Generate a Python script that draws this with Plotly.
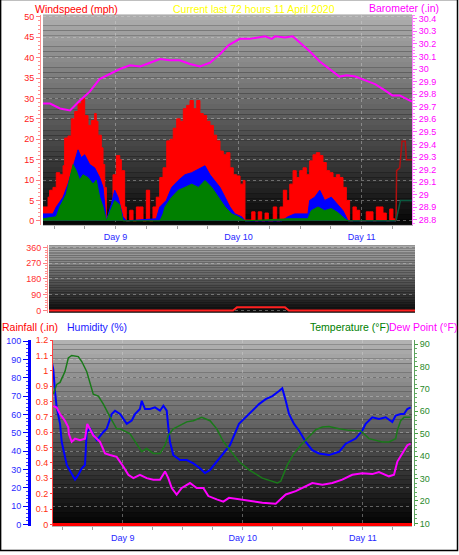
import plotly.graph_objects as go

W, H = 459, 555

# ---------------- data (x = day of month, decimal) ----------------
gust_t = [8.410, 8.451, 8.464, 8.491, 8.518, 8.546, 8.573, 8.586, 8.613, 8.640,
          8.668, 8.695, 8.721, 8.735, 8.749, 8.776, 8.803, 8.830, 8.843, 8.857,
          8.884, 8.898, 8.912, 8.925, 8.952, 8.979, 9.006, 9.034, 9.047, 9.074,
          9.087, 9.115, 9.142, 9.169, 9.196, 9.223, 9.250, 9.277, 9.304, 9.331,
          9.359, 9.386, 9.416, 9.443, 9.469, 9.497, 9.524, 9.551, 9.578, 9.605,
          9.632, 9.660, 9.686, 9.713, 9.741, 9.768, 9.795, 9.822, 9.849, 9.876,
          9.903, 9.930, 9.957, 9.985, 10.012, 10.038, 10.052, 10.107, 10.134, 10.160,
          10.188, 10.215, 10.242, 10.282, 10.310, 10.337, 10.364, 10.391, 10.402, 10.416,
          10.443, 10.469, 10.497, 10.524, 10.551, 10.578, 10.605, 10.632, 10.660, 10.686,
          10.713, 10.741, 10.768, 10.795, 10.822, 10.849, 10.876, 10.903, 10.930, 10.957,
          10.985, 11.038, 11.066, 11.093, 11.120, 11.148, 11.174, 11.201, 11.229, 11.255,
          11.269, 11.280]
gust_v = [3.4, 5.8, 7.5, 8.2, 11.8, 11.3, 13.5, 20.3, 20.8, 25,
          26.8, 28.7, 29.5, 30, 25.8, 23.4, 24.6, 26.3, 24.4, 21,
          17.9, 13.8, 8.2, 1, 0.5, 11.3, 16, 15, 12.3, 3.4,
          0, 2.6, 0, 3.4, 3.4, 0, 7.5, 0, 3.4, 5.8,
          10.6, 13, 19.6, 20, 22.7, 25, 24.4, 27.5, 28.3, 29.5,
          27.5, 29.5, 26.3, 25.8, 24.4, 23.4, 21, 19.6, 17.1, 16.2,
          16.7, 13, 11.3, 11, 9, 9.9, 0.2, 2.2, 0, 2.2,
          0, 1.9, 0, 3.4, 0, 3.4, 7.5, 5, 5, 9,
          12.3, 10.6, 12.3, 13, 11.3, 14.7, 16.2, 16.7, 16, 14.3,
          12.3, 11.8, 10.6, 11.3, 10.6, 8.2, 5, 0, 3.4, 2.6,
          0, 2.2, 2.2, 0, 3.4, 3.4, 1.9, 0, 2.9, 0.5,
          0, 0]

avg_t = [8.410, 8.491, 8.518, 8.573, 8.613, 8.654, 8.695, 8.721, 8.749, 8.790,
         8.830, 8.871, 8.898, 8.925, 8.965, 8.993, 9.020, 9.060, 9.087, 9.331,
         9.359, 9.412, 9.456, 9.510, 9.564, 9.619, 9.673, 9.727, 9.768, 9.808,
         9.849, 9.890, 9.930, 9.971, 10.025, 10.052, 10.351, 10.377, 10.402, 10.456,
         10.564, 10.578, 10.619, 10.660, 10.700, 10.754, 10.808, 10.849, 10.890, 11.280]
avg_v = [1.7, 1.7, 3.4, 5.8, 9, 13, 17.4, 15.5, 16.2, 13.8,
         13, 10.6, 8.2, 0, 4, 7.5, 5.8, 1, 0, 0.5,
         3.4, 5, 8.2, 9.9, 11.3, 11.8, 12.6, 13.5, 11.3, 9.9,
         8.2, 5.8, 3.4, 1.7, 1, 0, 0, 0.5, 1, 1.7,
         1.7, 5, 5.8, 7.5, 5, 5.8, 4, 2.5, 0, 0]

wind_t = [8.410, 8.518, 8.546, 8.599, 8.654, 8.681, 8.708, 8.735, 8.776, 8.817,
          8.843, 8.871, 8.898, 8.925, 8.993, 9.034, 9.060, 9.361, 9.386, 9.402,
          9.456, 9.510, 9.564, 9.619, 9.673, 9.727, 9.782, 9.835, 9.890, 9.944,
          9.998, 10.052, 10.402, 10.564, 10.591, 10.646, 10.700, 10.754, 10.808, 10.863,
          10.890, 11.280]
wind_v = [0.5, 1, 3.4, 6.5, 13.8, 12.3, 10, 11.3, 10.6, 9,
          10, 5.8, 3.4, 0, 5, 3.9, 0, 0, 1.7, 3.4,
          5.8, 7.5, 8.2, 9, 8.2, 9.9, 8.2, 5.8, 3.4, 1.7,
          1, 0, 0.5, 0.5, 2.5, 3.4, 2.5, 3, 2, 0.5,
          0, 0]

cur_gust_t = [11.280, 11.285, 11.310, 11.329, 11.355, 11.364, 11.410]
cur_gust_v = [0, 12.3, 13, 19.5, 19.5, 15, 15]
cur_wind_t = [11.280, 11.316, 11.410]
cur_wind_v = [0, 5, 5]

baro_t = [8.410, 8.467, 8.548, 8.630, 8.710, 8.790, 8.870, 8.955, 9.035, 9.117,
          9.200, 9.280, 9.360, 9.440, 9.520, 9.605, 9.686, 9.768, 9.850, 9.920,
          10.010, 10.090, 10.170, 10.215, 10.270, 10.296, 10.377, 10.440, 10.500, 10.580,
          10.660, 10.740, 10.820, 10.880, 10.950, 11.030, 11.110, 11.190, 11.250, 11.310,
          11.390, 11.410]
baro_v = [29.725, 29.725, 29.686, 29.67, 29.75, 29.82, 29.92, 29.96, 30.0, 30.03,
          30.02, 30.05, 30.08, 30.07, 30.07, 30.04, 30.02, 30.05, 30.12, 30.19,
          30.24, 30.24, 30.25, 30.26, 30.24, 30.26, 30.25, 30.26, 30.21, 30.14,
          30.06, 30.0, 29.94, 29.95, 29.94, 29.91, 29.88, 29.83, 29.79, 29.79,
          29.75, 29.74]

dir_t = [8.41, 9.918, 9.951, 10.344, 10.377, 11.41]
dir_v = [0, 0, 18, 18, 0, 0]

rain_t = [8.41, 11.41]
rain_v = [0, 0]

hum_t = [8.410, 8.421, 8.435, 8.449, 8.477, 8.491, 8.533, 8.574, 8.602, 8.629,
         8.658, 8.685, 8.699, 8.727, 8.783, 8.838, 8.866, 8.908, 8.935, 8.977,
         9.033, 9.074, 9.102, 9.143, 9.158, 9.185, 9.227, 9.268, 9.310, 9.338,
         9.366, 9.379, 9.393, 9.421, 9.477, 9.533, 9.588, 9.643, 9.685, 9.727,
         9.783, 9.838, 9.893, 9.968, 10.052, 10.135, 10.191, 10.246, 10.302, 10.329,
         10.358, 10.385, 10.427, 10.468, 10.524, 10.579, 10.635, 10.718, 10.802, 10.858,
         10.941, 10.996, 11.024, 11.079, 11.135, 11.191, 11.246, 11.274, 11.316, 11.343,
         11.371, 11.399]
hum_v = [88, 84.4, 72.7, 63.8, 54.8, 45, 32.4, 28, 24.4, 27,
         30.6, 32.4, 50.4, 52.2, 45.9, 50.4, 52.2, 60.2, 62, 60.2,
         54.8, 56.6, 60.2, 62.9, 67.4, 62.9, 62.9, 63.8, 62, 64.7,
         62, 53, 45, 37.8, 35.1, 35.1, 33.3, 30.6, 28, 29.7,
         34.2, 38.7, 43.2, 54.8, 60.2, 65.6, 68.3, 70, 72.7, 74.2,
         67.4, 60.2, 54.8, 51.2, 45, 40.5, 38.7, 37.8, 39.6, 44,
         46.8, 51.2, 54.8, 58.4, 57.5, 58.4, 55.8, 59.3, 60.2, 60.2,
         62.9, 63.8]

temp_t = [8.421, 8.449, 8.477, 8.518, 8.546, 8.574, 8.629, 8.658, 8.699, 8.727,
          8.754, 8.796, 8.838, 8.893, 8.949, 8.977, 9.060, 9.158, 9.199, 9.254,
          9.310, 9.352, 9.379, 9.421, 9.477, 9.533, 9.588, 9.658, 9.727, 9.783,
          9.838, 9.893, 9.968, 10.052, 10.163, 10.288, 10.316, 10.371, 10.427, 10.483,
          10.552, 10.608, 10.663, 10.718, 10.802, 10.885, 10.983, 11.052, 11.163, 11.218,
          11.274, 11.288, 11.316, 11.343, 11.399]
temp_v = [67.6, 72, 72.9, 77.7, 83.8, 84.9, 84.4, 82.2, 77.8, 72,
          67.6, 66.8, 63.2, 57.5, 52.2, 52.2, 50, 42, 43.4, 41.2,
          41.2, 44.9, 49.3, 52.2, 53.6, 55.3, 55.8, 57.3, 55.8, 52.2,
          46.5, 42.7, 37.6, 33.9, 30.2, 28, 28.8, 36.1, 41.2, 44.9,
          48.5, 51.8, 53, 53.2, 52.2, 51.5, 51.2, 47.8, 46.3, 46.3,
          47.8, 51.6, 55.8, 57.3, 57.3]

dew_t = [8.421, 8.449, 8.477, 8.518, 8.546, 8.550, 8.574, 8.602, 8.643, 8.685,
         8.704, 8.727, 8.754, 8.810, 8.852, 8.893, 8.949, 9.004, 9.046, 9.088,
         9.143, 9.199, 9.254, 9.310, 9.352, 9.379, 9.408, 9.449, 9.491, 9.560,
         9.616, 9.671, 9.713, 9.783, 9.838, 9.885, 9.968, 10.052, 10.163, 10.274,
         10.316, 10.358, 10.441, 10.496, 10.579, 10.663, 10.746, 10.829, 10.912, 10.996,
         11.079, 11.135, 11.218, 11.260, 11.288, 11.329, 11.371, 11.399]
dew_v = [62.4, 61.7, 58.8, 55.8, 52.9, 50, 46.4, 47.8, 47.1, 47.8,
         54.4, 52.2, 49.3, 46.4, 41.2, 40.5, 39.7, 35.4, 31.7, 30.2,
         31.7, 30.2, 29.5, 29.5, 33.2, 30.2, 25.8, 22.9, 25.8, 28,
         25.8, 25.8, 22.2, 20.7, 19.7, 21.4, 20.7, 20, 19.2, 18.8,
         20.7, 22.9, 24.4, 25.8, 28, 27.3, 28, 29.5, 31.7, 32.4,
         32, 32.9, 31, 31.7, 37.6, 41.2, 44.9, 45.6]

day_ticks = [9, 10, 11]
day_labels = ["Day 9", "Day 10", "Day 11"]
baro_ticks = [28.8, 28.9, 29.0, 29.1, 29.2, 29.3, 29.4, 29.5, 29.6, 29.7,
              29.8, 29.9, 30.0, 30.1, 30.2, 30.3, 30.4]
baro_labels = ["28.8", "28.9", "29", "29.1", "29.2", "29.3", "29.4", "29.5", "29.6",
               "29.7", "29.8", "29.9", "30", "30.1", "30.2", "30.3", "30.4"]
dir_ticks = [0, 90, 180, 270, 360]
dir_letters = ["N", "E", "S", "W", "N"]
rain_ticks = [0, 0.1, 0.2, 0.3, 0.4, 0.5, 0.6, 0.7, 0.8, 0.9, 1.0, 1.1, 1.2]
rain_labels = ["0", "0.1", "0.2", "0.3", "0.4", "0.5", "0.6", "0.7", "0.8", "0.9",
               "1", "1.1", "1.2"]

# ---------------- helpers ----------------
FONT = "Liberation Sans"
def px_x(p):
    return p / W
def px_y(p):
    return 1 - p / H

X_RANGE = [8.41, 11.41]
RED, BLUE, GREEN, MAG = "#ff0000", "#0000ff", "#008000", "#ff00ff"

fig = go.Figure()

# top panel
fig.add_trace(go.Scatter(x=gust_t, y=gust_v, mode="lines", line=dict(color=RED, width=1, shape="hv"),
                         fill="tozeroy", fillcolor=RED, xaxis="x", yaxis="y"))
fig.add_trace(go.Scatter(x=avg_t, y=avg_v, mode="lines", line=dict(color=BLUE, width=1),
                         fill="tozeroy", fillcolor=BLUE, xaxis="x", yaxis="y"))
fig.add_trace(go.Scatter(x=wind_t, y=wind_v, mode="lines", line=dict(color=GREEN, width=1),
                         fill="tozeroy", fillcolor=GREEN, xaxis="x", yaxis="y"))
fig.add_trace(go.Scatter(x=cur_gust_t, y=cur_gust_v, mode="lines", line=dict(color="#b01010", width=1.5),
                         xaxis="x", yaxis="y"))
fig.add_trace(go.Scatter(x=cur_wind_t, y=cur_wind_v, mode="lines", line=dict(color="#0a5a40", width=1.5),
                         xaxis="x", yaxis="y"))
fig.add_trace(go.Scatter(x=baro_t, y=baro_v, mode="lines", line=dict(color=MAG, width=2),
                         xaxis="x", yaxis="y2"))
# middle panel
fig.add_trace(go.Scatter(x=dir_t, y=dir_v, mode="lines", line=dict(color="#ff2020", width=2),
                         xaxis="x2", yaxis="y3"))
# bottom panel
fig.add_trace(go.Scatter(x=rain_t, y=rain_v, mode="lines", line=dict(color=RED, width=3),
                         xaxis="x3", yaxis="y6"))
fig.add_trace(go.Scatter(x=temp_t, y=temp_v, mode="lines", line=dict(color="#1a7a1a", width=1.5),
                         xaxis="x3", yaxis="y7"))
fig.add_trace(go.Scatter(x=dew_t, y=dew_v, mode="lines", line=dict(color=MAG, width=2),
                         xaxis="x3", yaxis="y7"))
fig.add_trace(go.Scatter(x=hum_t, y=hum_v, mode="lines", line=dict(color=BLUE, width=2),
                         xaxis="x3", yaxis="y5"))

# gradient backgrounds
shapes = []
def bands(xd, yd, top, bot, n=40):
    for i in range(n):
        c = int(round(top + (bot - top) * (i + 0.5) / n))
        shapes.append(dict(type="rect", xref=xd, yref=yd, x0=0, x1=1,
                           y0=1 - (i + 1) / n, y1=1 - i / n,
                           fillcolor=f"rgb({c},{c},{c})", line=dict(width=0), layer="below"))
bands("x domain", "y domain", 175, 5)
bands("x2 domain", "y3 domain", 172, 10)
bands("x3 domain", "y5 domain", 180, 0)
# outer frame
shapes.append(dict(type="rect", xref="paper", yref="paper", x0=0.6 / W, x1=457.5 / W,
                   y0=1 - 553.5 / H, y1=1.01, line=dict(color="black", width=1.5),
                   fillcolor="rgba(0,0,0,0)", layer="above"))

tick_font = lambda c: dict(family=FONT, size=9, color=c)
grid = dict(showgrid=True, gridcolor="rgba(215,215,215,0.4)", griddash="dot", gridwidth=1)

xcommon = dict(range=X_RANGE, tickmode="array", tickvals=day_ticks, ticktext=day_labels,
               zeroline=False, fixedrange=True)

top_dom = [px_y(223), px_y(10)]
mid_dom = [px_y(312), px_y(244)]
bot_dom = [px_y(529), px_y(340)]

layout = dict(
    width=W, height=H, margin=dict(l=0, r=0, t=0, b=0),
    paper_bgcolor="white", plot_bgcolor="black", showlegend=False,
    font=dict(family=FONT),
    xaxis=dict(domain=[px_x(43), px_x(412)], anchor="y", **xcommon,
               ticks="outside", ticklen=3, tickcolor="#a0a0a0",
               minor=dict(tickmode="linear", tick0=9, dtick=0.25, ticks="outside", ticklen=3, tickcolor="#a0a0a0"),
               tickfont=tick_font("#2828ff"), showline=True, linecolor="#b8b8b8", **grid),
    yaxis=dict(domain=top_dom, range=[-0.97, 50.5], anchor="free", position=px_x(40), side="left",
               tickmode="linear", tick0=0, dtick=5, tickfont=tick_font("#ff2020"),
               showline=True, linecolor="#ff9090", ticks="outside", ticklen=4, tickcolor="#ff8080",
               minor=dict(tickmode="linear", tick0=0, dtick=1, ticks="outside", ticklen=2, tickcolor="#ff9090"),
               zeroline=False, **grid),
    yaxis2=dict(range=[28.761, 30.431], overlaying="y", side="right", anchor="x",
                tickmode="array", tickvals=baro_ticks, ticktext=baro_labels, tickfont=tick_font(MAG),
                showline=True, linecolor="#ff80ff", ticks="outside", ticklen=4, tickcolor="#ff60ff",
                minor=dict(tickmode="linear", tick0=28.8, dtick=0.025, ticks="outside", ticklen=2, tickcolor="#ff80ff"),
                showgrid=False, zeroline=False),
    xaxis2=dict(domain=[px_x(49), px_x(415)], anchor="y3", range=X_RANGE, showticklabels=False,
                ticks="", showgrid=False, zeroline=False, showline=False),
    yaxis3=dict(domain=mid_dom, range=[-11.25, 371], anchor="free", position=px_x(47), side="left",
                tickmode="array", tickvals=dir_ticks, tickfont=tick_font("#ff3030"),
                showline=True, linecolor="#ff9090", ticks="outside", ticklen=4, tickcolor="#ff8080",
                minor=dict(tickmode="linear", tick0=0, dtick=15, ticks="outside", ticklen=2, tickcolor="#ff9090"),
                zeroline=False, **grid),
    yaxis4=dict(range=[-11.25, 371], overlaying="y3", side="right", anchor="free", position=px_x(425),
                tickmode="array", tickvals=dir_ticks, ticktext=dir_letters,
                tickfont=dict(family=FONT, size=13, color="#ff2020"),
                showline=False, ticks="", showgrid=False, zeroline=False),
    xaxis3=dict(domain=[px_x(52), px_x(412)], anchor="y5", **xcommon,
                ticks="outside", ticklen=3, tickcolor="#a0a0a0",
                minor=dict(tickmode="linear", tick0=9, dtick=0.25, ticks="outside", ticklen=3, tickcolor="#a0a0a0"),
                tickfont=tick_font("#2828ff"), showline=True, linecolor="#b8b8b8", **grid),
    yaxis5=dict(domain=bot_dom, range=[-1.08, 100.5], anchor="free", position=px_x(29), side="left",
                tickmode="linear", tick0=0, dtick=10, tickfont=tick_font("#2a2aff"),
                showline=True, linecolor=BLUE, linewidth=3, ticks="outside", ticklen=5, tickcolor=BLUE,
                minor=dict(tickmode="linear", tick0=0, dtick=2, ticks="outside", ticklen=2, tickcolor="#4040ff"),
                zeroline=False, **grid),
    yaxis6=dict(range=[-0.0128, 1.2], overlaying="y5", anchor="free", position=px_x(52), side="left",
                tickmode="array", tickvals=rain_ticks, ticktext=rain_labels, tickfont=tick_font("#ff3010"),
                showline=True, linecolor="#ff4040", ticks="outside", ticklen=2, tickcolor="#ff4040",
                showgrid=False, zeroline=False),
    yaxis7=dict(range=[8.68, 91.76], overlaying="y5", anchor="free", position=px_x(414), side="right",
                tickmode="linear", tick0=10, dtick=10, tickfont=tick_font("#2a8a2a"),
                showline=True, linecolor="#60a060", ticks="outside", ticklen=3, tickcolor="#40a040",
                minor=dict(tickmode="linear", tick0=10, dtick=2, ticks="outside", ticklen=2, tickcolor="#60b060"),
                showgrid=False, zeroline=False),
    shapes=shapes,
)

def title(text, xp, yp, color):
    return dict(text=text, x=px_x(xp), y=px_y(yp), xref="paper", yref="paper",
                xanchor="left", yanchor="middle", showarrow=False,
                font=dict(family=FONT, size=10.5, color=color))

layout["annotations"] = [
    title("Windspeed (mph)", 33, 4, RED),
    title("Current last 72 hours 11 April 2020", 171, 4, "#ffff00"),
    title("Barometer (.in)", 367, 3.5, MAG),
    title("Rainfall (.in)", 0, 327, RED),
    title("Humidity (%)", 65, 327, "#1a1aff"),
    title("Temperature (°F)", 308, 327, GREEN),
    title("Dew Point (°F)", 387, 327, MAG),
]

fig.update_layout(**layout)
fig.write_html("out.html")
